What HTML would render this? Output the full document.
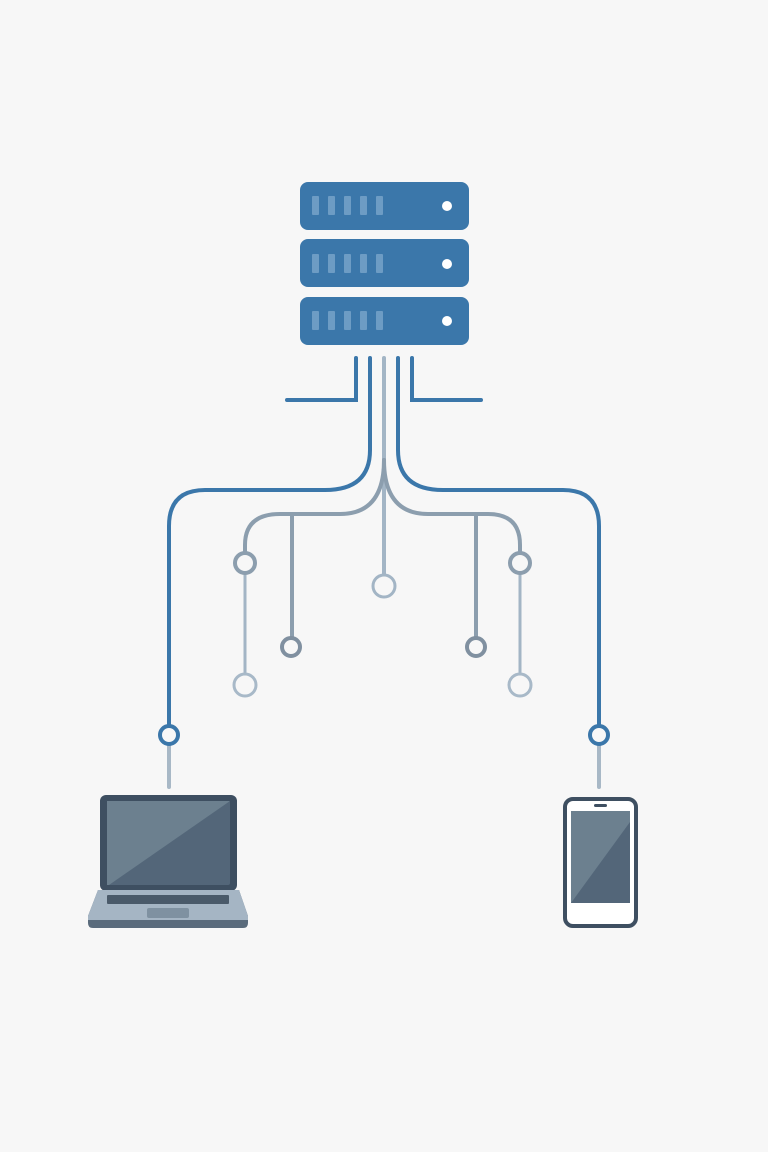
<!DOCTYPE html>
<html><head><style>html,body{margin:0;padding:0;background:#f7f7f7;}svg{display:block}</style></head>
<body>
<svg width="768" height="1152" viewBox="0 0 768 1152" xmlns="http://www.w3.org/2000/svg">
<rect width="768" height="1152" fill="#f7f7f7"/>
<g fill="#3b77aa">
<rect x="300" y="182" width="169" height="48" rx="8"/>
<rect x="300" y="239" width="169" height="48" rx="8"/>
<rect x="300" y="297" width="169" height="48" rx="8"/>
</g>
<g fill="#6d9cc4">
<rect x="312" y="196" width="7" height="19" rx="1"/><rect x="328" y="196" width="7" height="19" rx="1"/><rect x="344" y="196" width="7" height="19" rx="1"/><rect x="360" y="196" width="7" height="19" rx="1"/><rect x="376" y="196" width="7" height="19" rx="1"/>
<rect x="312" y="254" width="7" height="19" rx="1"/><rect x="328" y="254" width="7" height="19" rx="1"/><rect x="344" y="254" width="7" height="19" rx="1"/><rect x="360" y="254" width="7" height="19" rx="1"/><rect x="376" y="254" width="7" height="19" rx="1"/>
<rect x="312" y="311" width="7" height="19" rx="1"/><rect x="328" y="311" width="7" height="19" rx="1"/><rect x="344" y="311" width="7" height="19" rx="1"/><rect x="360" y="311" width="7" height="19" rx="1"/><rect x="376" y="311" width="7" height="19" rx="1"/>
</g>
<g fill="#fff"><circle cx="447" cy="206" r="5"/><circle cx="447" cy="264" r="5"/><circle cx="447" cy="321" r="5"/></g>
<g fill="none" stroke-linecap="round" stroke-width="4">
<path d="M356 358 V400 H287" stroke="#3b77aa"/>
<path d="M412 358 V400 H481" stroke="#3b77aa"/>
<path d="M370 358 V450 Q370 490 325 490 H205 Q169 490 169 526 V727" stroke="#3b77aa"/>
<path d="M398 358 V450 Q398 490 443 490 H563 Q599 490 599 526 V727" stroke="#3b77aa"/>
<path d="M384 358 V575" stroke="#a3b5c5"/>
<path d="M384 460 Q384 514 340 514 H280 Q245 514 245 545 V553" stroke="#8c9eae"/>
<path d="M384 460 Q384 514 428 514 H488 Q520 514 520 545 V553" stroke="#8c9eae"/>
<path d="M292 514 V637" stroke="#8c9eae"/>
<path d="M476 514 V637" stroke="#8c9eae"/>
<path d="M245 573 V674" stroke="#a3b5c5" stroke-width="3"/>
<path d="M520 573 V674" stroke="#a3b5c5" stroke-width="3"/>
<path d="M169 745 V787" stroke="#a8b8c6" stroke-width="4"/>
<path d="M599 745 V787" stroke="#a8b8c6" stroke-width="4"/>
</g>
<g fill="#f7f7f7" stroke-width="4">
<circle cx="384" cy="586" r="11" stroke="#a3b5c5" stroke-width="3"/>
<circle cx="245" cy="563" r="10" stroke="#8c9eae"/>
<circle cx="520" cy="563" r="10" stroke="#8c9eae"/>
<circle cx="291" cy="647" r="9" stroke="#8090a0"/>
<circle cx="476" cy="647" r="9" stroke="#8090a0"/>
<circle cx="245" cy="685" r="11" stroke="#a8b9c8" stroke-width="3"/>
<circle cx="520" cy="685" r="11" stroke="#a8b9c8" stroke-width="3"/>
<circle cx="169" cy="735" r="9" stroke="#3b77aa"/>
<circle cx="599" cy="735" r="9" stroke="#3b77aa"/>
</g>
<!-- laptop -->
<rect x="100" y="795" width="137" height="96" rx="6" fill="#3e4f61"/>
<rect x="107" y="801" width="123" height="84" rx="2" fill="#536679"/>
<path d="M107 801 H230 L109 885 H107 Z" fill="#6c808f"/>
<path d="M98 890 H239 L248 916 V923 Q248 928 243 928 H93 Q88 928 88 923 V916 Z" fill="#5a6b7c"/>
<path d="M98 890 H239 L248 916 V920 H88 V916 Z" fill="#a5b5c4"/>
<rect x="107" y="895" width="122" height="9" rx="1" fill="#4a5a6a"/>
<rect x="147" y="908" width="42" height="10" rx="2" fill="#7f91a1"/>
<!-- phone -->
<rect x="565" y="799" width="71" height="127" rx="8" fill="#fff" stroke="#3e4f61" stroke-width="4"/>
<rect x="571" y="811" width="59" height="92" fill="#536679"/>
<path d="M571 811 H630 V822 L571 903 Z" fill="#6c808f"/>
<rect x="594" y="804" width="13" height="3" rx="1.5" fill="#3e4f61"/>
</svg>
</body></html>
